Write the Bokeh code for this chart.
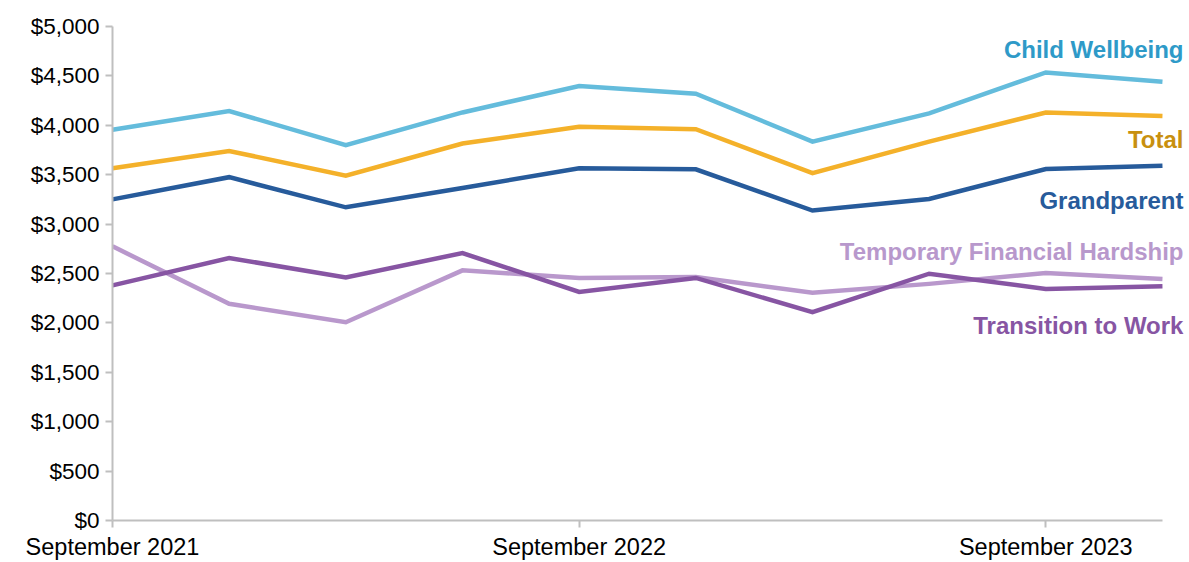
from bokeh.plotting import figure
from bokeh.models import Range1d, FixedTicker, NumeralTickFormatter, ColumnDataSource
from bokeh.embed import file_html
from bokeh.resources import INLINE
from bokeh.core.properties import value

# Quarters: September 2021 .. December 2023
quarters = list(range(10))
tick_positions = [0, 4, 8]
tick_labels = ["September 2021", "September 2022", "September 2023"]

child_wellbeing = [3955, 4145, 3800, 4130, 4398, 4320, 3835, 4120, 4535, 4440]
total = [3565, 3740, 3490, 3815, 3985, 3960, 3515, 3835, 4130, 4095]
grandparent = [3250, 3475, 3170, 3365, 3565, 3555, 3137, 3255, 3558, 3590]
temp_hardship = [2775, 2193, 2007, 2532, 2455, 2465, 2305, 2395, 2505, 2445]
transition_work = [2380, 2657, 2461, 2707, 2314, 2455, 2108, 2498, 2344, 2370]

series_names = ["Child Wellbeing", "Total", "Grandparent",
                "Temporary Financial Hardship", "Transition to Work"]
series_values = [child_wellbeing, total, grandparent, temp_hardship, transition_work]
line_colors = ["#64bcdc", "#f4b12a", "#275b9b", "#b998cc", "#8755a3"]
text_colors = ["#2e9ac8", "#c8900f", "#275b9b", "#b898cc", "#8755a3"]
label_y = [4763, 3855, 3235, 2720, 1975]

FONT = "Liberation Sans"

p = figure(width=1186, height=562, output_backend="svg", toolbar_location=None,
           x_range=Range1d(0, 9.206), y_range=Range1d(0, 5000),
           min_border_left=112, min_border_right=0, min_border_top=26,
           min_border_bottom=40)
p.outline_line_color = None
p.xgrid.grid_line_color = None
p.ygrid.grid_line_color = None
p.background_fill_color = "white"
p.border_fill_color = "white"

for vals, col in zip(series_values, line_colors):
    p.line(quarters, vals, line_color=col, line_width=4.5, line_join="miter")

src = ColumnDataSource(dict(x=[9] * len(series_names), y=label_y,
                            t=series_names, c=text_colors))
p.text(x="x", y="y", text="t", text_color="c", source=src, x_offset=21,
       text_align="right", text_baseline="middle",
       text_font=value(FONT), text_font_size="24px", text_font_style="bold")

# y axis
ya = p.yaxis[0]
ya.ticker = FixedTicker(ticks=list(range(0, 5001, 500)))
ya.formatter = NumeralTickFormatter(format="$0,0")
ya.axis_line_color = "#bfbfbf"
ya.axis_line_width = 2
ya.major_tick_line_color = "#bfbfbf"
ya.major_tick_line_width = 2
ya.major_tick_out = 7
ya.major_tick_in = 0
ya.minor_tick_line_color = None
ya.major_label_text_font = FONT
ya.major_label_text_font_size = "22.5px"
ya.major_label_text_color = "#000000"
ya.major_label_standoff = 6

# x axis
xa = p.xaxis[0]
xa.bounds = (0, 9)
xa.ticker = FixedTicker(ticks=tick_positions)
xa.major_label_overrides = {t: l for t, l in zip(tick_positions, tick_labels)}
xa.axis_line_color = "#bfbfbf"
xa.axis_line_width = 2
xa.major_tick_line_color = "#bfbfbf"
xa.major_tick_line_width = 2
xa.major_tick_out = 7
xa.major_tick_in = 0
xa.minor_tick_line_color = None
xa.major_label_text_font = FONT
xa.major_label_text_font_size = "23.5px"
xa.major_label_text_color = "#000000"
xa.major_label_standoff = 6

open("out.html", "w").write(file_html(p, INLINE))
